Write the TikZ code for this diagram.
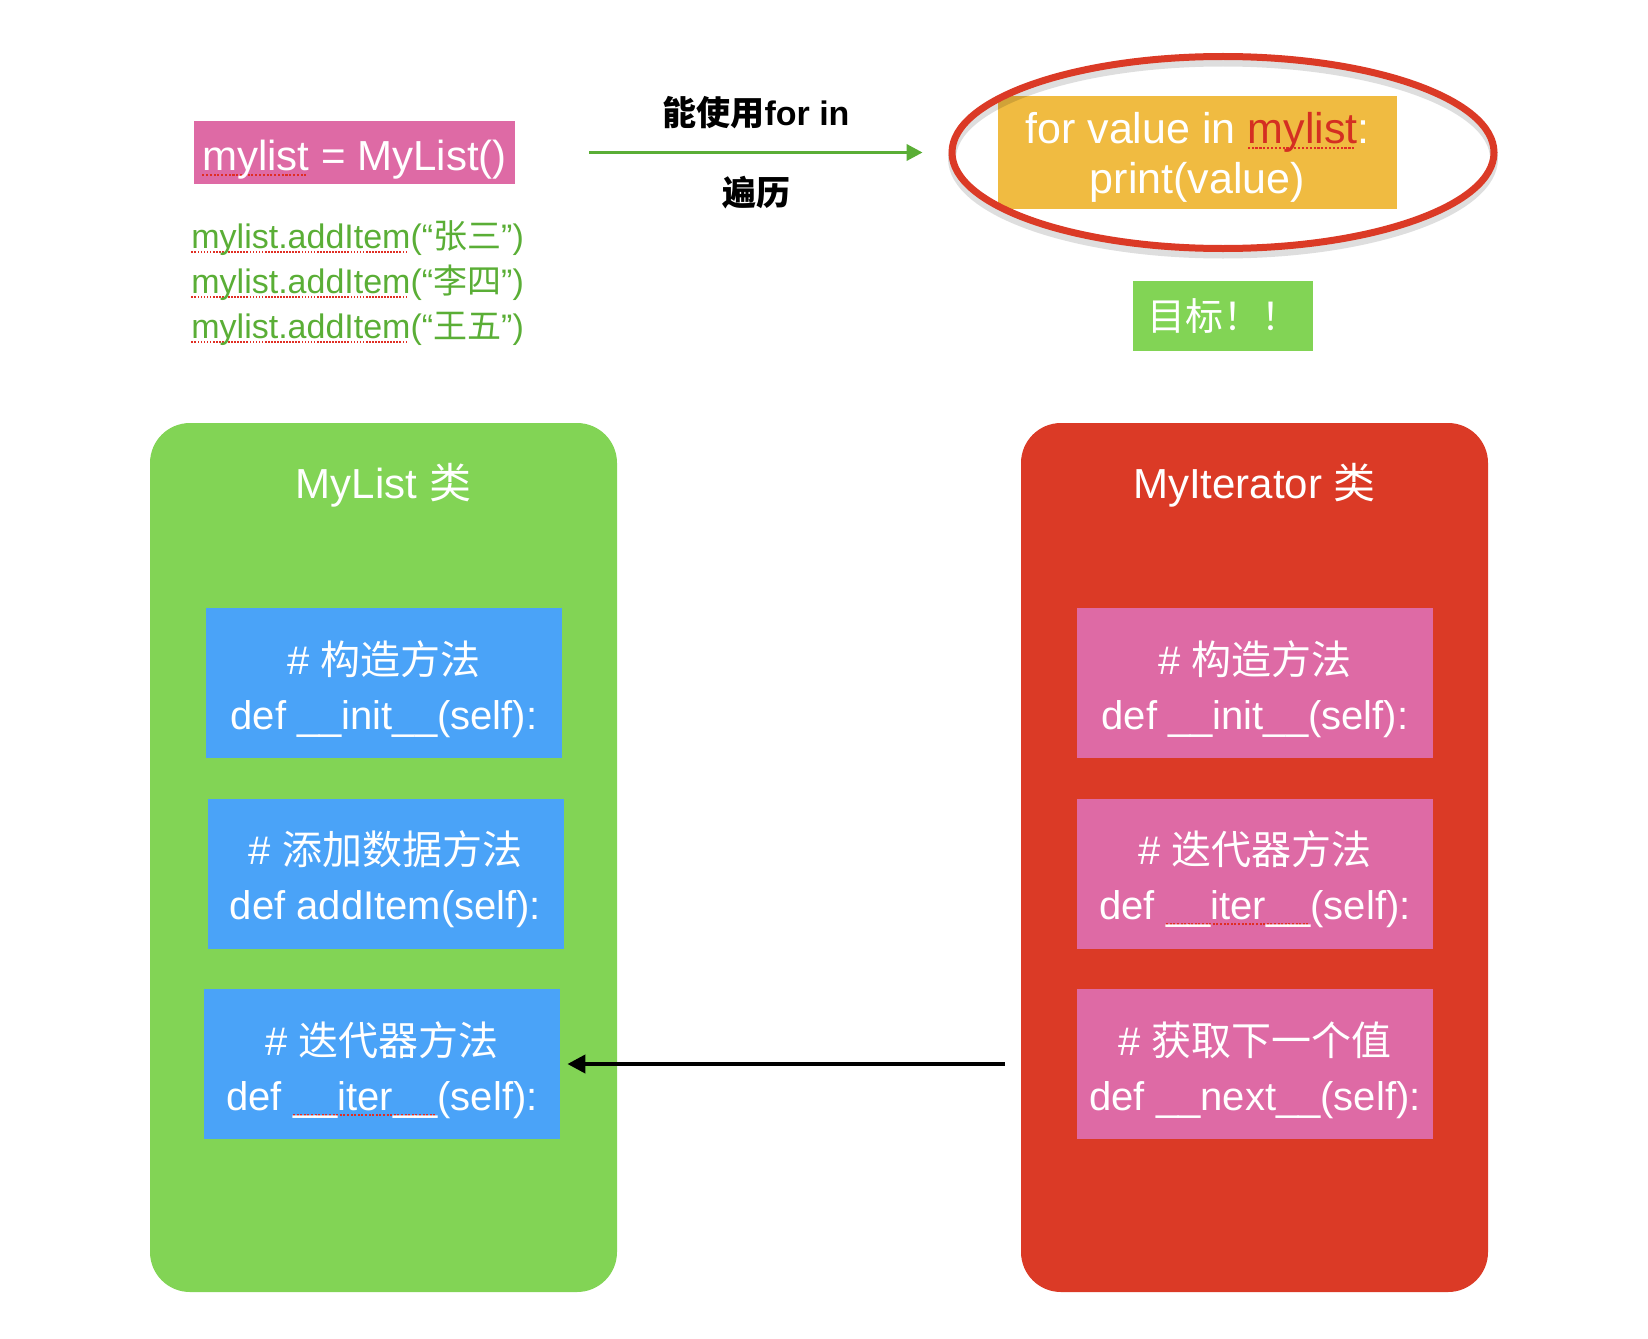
\documentclass[tikz,border=0pt]{standalone}
\usepackage{fontspec}
\setmainfont{Liberation Sans}
\newfontfamily\cjk{Noto Sans CJK SC}
\usepackage{tikz}
\usetikzlibrary{%
    arrows.meta%
}

\definecolor{listgreen}{HTML}{82D455}
\definecolor{iterred}{HTML}{DB3A26}
\definecolor{methodblue}{HTML}{4AA3F8}
\definecolor{methodpink}{HTML}{DE6AA5}
\definecolor{loopgold}{HTML}{F0BB41}
\definecolor{codegreen}{HTML}{5AAE36}
\definecolor{spellred}{HTML}{E02E24}
\definecolor{wordred}{HTML}{D42F22}

\newcommand\zh[1]{{\cjk #1}}
\newsavebox\spellbox
\newcommand\spellmark[1]{\sbox\spellbox{#1}\rlap{\color{spellred}\raisebox{-0.14em}{\hbox to \wd\spellbox{\leaders\hbox{\rule{0.05em}{0.05em}\kern0.04em}\hfill}}}\usebox\spellbox}
\newcommand\lift{\rule{0pt}{1.15em}}

\begin{document}
\begin{tikzpicture}[x=0.5pt, y=-0.5pt,
    classbox/.style={minimum width=233.5pt, minimum height=434.5pt, inner sep=0pt, rounded corners=20pt},
    method/.style={minimum width=178pt, minimum height=75pt, inner sep=0pt, text=white, align=center, font=\fontsize{20}{27.5}\selectfont},
    title/.style={text=white, inner sep=0pt, font=\fontsize{21}{25}\selectfont},
    additem/.style={anchor=base west, inner sep=0pt, text=codegreen, font=\fontsize{17}{20}\selectfont},
    arrowlabel/.style={inner sep=0pt, font=\fontsize{17}{20}\selectfont\bfseries}]
  \useasboundingbox (0, 0) rectangle (1648, 1338);
  % the two classes
  \node[classbox, fill=listgreen] (mlcls) at (383.5, 857.5) {};
  \node[classbox, fill=iterred] (itcls) at (1254.5, 857.5) {};
  \node[title] (mltitle) at ([yshift=-31.5pt]mlcls.north) {MyList \zh{类}};
  \node[title] (ittitle) at ([yshift=-31.5pt]itcls.north) {MyIterator \zh{类}};
  \node[method, fill=methodblue] (mlinit) at (384, 683) {\lift\# \zh{构造方法}\\def \_\_init\_\_(self):};
  \node[method, fill=methodblue] (mladd) at (385.5, 873.5) {\lift\# \zh{添加数据方法}\\def addItem(self):};
  \node[method, fill=methodblue] (mliter) at (382, 1064) {\lift\# \zh{迭代器方法}\\def \spellmark{\_\_iter\_\_}(self):};
  \node[method, fill=methodpink] (itinit) at (1255, 683) {\lift\# \zh{构造方法}\\def \_\_init\_\_(self):};
  \node[method, fill=methodpink] (ititer) at (1255, 873.5) {\lift\# \zh{迭代器方法}\\def \spellmark{\_\_iter\_\_}(self):};
  \node[method, fill=methodpink] (itnext) at (1255, 1064) {\lift\# \zh{获取下一个值}\\def \_\_next\_\_(self):};
  \draw[line width=2pt, -{Triangle[length=9pt, width=9pt]}] ([xshift=-36pt]itnext.west) -- ([xshift=3.5pt]mliter.east);
  % object and its items
  \node[fill=methodpink, minimum width=160.5pt, minimum height=31.5pt, inner sep=0pt, text=white, font=\fontsize{21}{25}\selectfont] (mkobj) at (354.5, 152.5) {\rule{0pt}{22pt}\spellmark{mylist} = MyList()};
  \node[additem] (add1) at (191, 248) {\spellmark{mylist.addItem}(“\zh{张三}”)};
  \node[additem] (add2) at (191, 293) {\spellmark{mylist.addItem}(“\zh{李四}”)};
  \node[additem] (add3) at (191, 338) {\spellmark{mylist.addItem}(“\zh{王五}”)};
  % the goal
  \node[fill=loopgold, minimum width=199.5pt, minimum height=56.5pt, inner sep=0pt, text=white, align=center, font=\fontsize{21.5}{25}\selectfont] (forloop) at (1197.5, 152.5) {\rule{0pt}{20pt}for value in \textcolor{wordred}{\spellmark{mylist}}:\\print(value)};
  \draw[line width=1.75pt, codegreen, -{Triangle[length=8pt, width=8pt]}] ([xshift=37pt]mkobj.east) -- ([xshift=-37.5pt]forloop.west)
    node[arrowlabel, midway, yshift=20pt, text=black] (usefor) {\zh{能使用}for in}
    node[arrowlabel, midway, yshift=-20pt, text=black] (walk) {\zh{遍历}};
  \draw[line width=4pt, black, opacity=0.13] ([xshift=12.75pt, yshift=-3pt]forloop.center) ellipse [x radius=135.5pt, y radius=48pt];
  \draw[line width=3.5pt, iterred] ([xshift=12.75pt]forloop.center) ellipse [x radius=135.5pt, y radius=48pt];
  \node[fill=listgreen, minimum width=90pt, minimum height=35pt, inner sep=0pt, text=white, font=\fontsize{19}{22}\selectfont] (goal) at (1223, 316) {\zh{目标！！}};
\end{tikzpicture}
\end{document}
